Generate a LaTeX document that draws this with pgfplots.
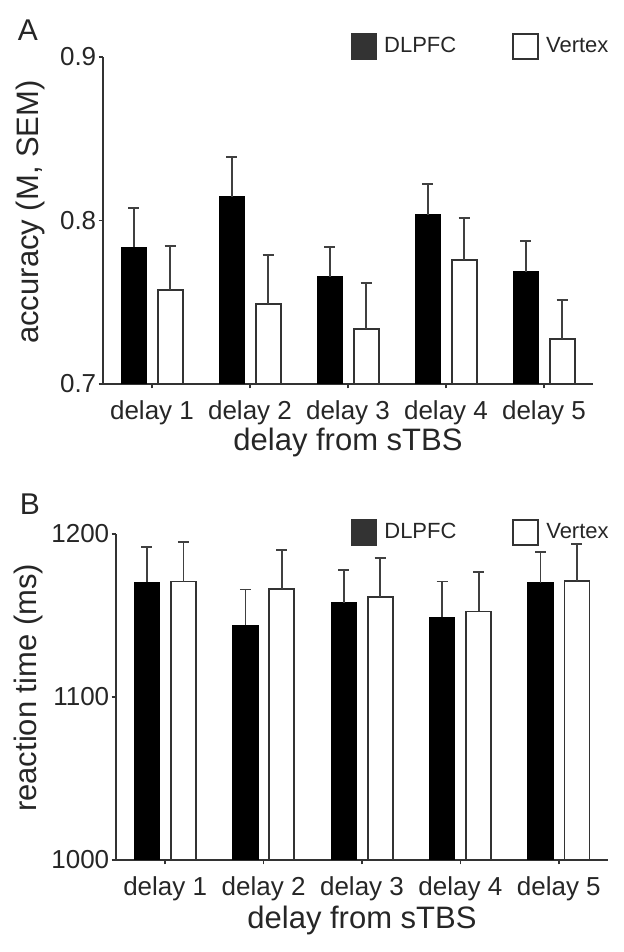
\documentclass[border=0pt]{standalone}
\usepackage{fontspec}
\setmainfont{Liberation Sans}
\usepackage{pgfplots}
\pgfplotsset{compat=1.18}
\pgfplotsset{
  mystyle/.style={
    scale only axis,
    anchor=south west,
    ybar, bar width=12.5pt,
    axis x line*=bottom, axis y line*=left,
    axis line style={black!80, line width=0.8pt, -},
    xmin=0.5, xmax=5.5,
    xtick={1,2,3,4,5},
    xticklabels={delay 1, delay 2, delay 3, delay 4, delay 5},
    tick align=outside,
    major tick length=2.2pt,
    tick style={black!80, line width=0.8pt},
    ticklabel style={font=\fontsize{13}{15}\selectfont, text=black!85},
    xticklabel style={anchor=base, yshift=-15.5pt},
    yticklabel style={anchor=east, inner sep=0pt, xshift=-1pt},
    /pgf/number format/assume math mode=true,
    legend style={draw=none, fill=none, font=\fontsize{11}{13}\selectfont, text=black!85,
      legend columns=2, anchor=north west, inner sep=0pt, outer sep=0pt,
      /tikz/every odd column/.append style={column sep=1.5pt},
      /tikz/every even column/.append style={column sep=26pt}},
    legend cell align=left,
  },
  dl/.style={bar shift=-9.1pt, fill=black, draw=black, line width=0.6pt, forget plot,
    error bars/.cd, y dir=plus, y explicit,
    error bar style={line width=0.9pt, black!75},
    error mark options={line width=0.9pt, black!75, mark size=2.75pt, rotate=90}},
  vx/.style={bar shift=9.1pt, fill=white, draw=black!80, line width=0.9pt, forget plot,
    error bars/.cd, y dir=plus, y explicit,
    error bar style={line width=0.9pt, black!75},
    error mark options={line width=0.9pt, black!75, mark size=2.75pt, rotate=90}},
}
\begin{document}
\begin{tikzpicture}[x=1pt,y=1pt]
\path[use as bounding box] (0,0) rectangle (312,476);
% Panel A
\begin{axis}[mystyle,
  at={(51.5pt,284pt)}, width=245pt, height=163.5pt,
  ymin=0.7, ymax=0.9, ytick={0.7,0.8,0.9},
  yticklabel style={/pgf/number format/.cd, fixed, precision=1, fixed zerofill},
  ylabel={accuracy (M, SEM)},
  xlabel={delay from sTBS},
  every axis y label/.style={at={(axis description cs:-0.149,0.526)}, rotate=90, anchor=center, font=\fontsize{15.5}{18}\selectfont, text=black!85},
  every axis x label/.style={at={(axis description cs:0.5,-0.180)}, anchor=center, font=\fontsize{15.5}{18}\selectfont, text=black!85},
  legend style={at={(axis description cs:0.506,1.073)}},
]
\addlegendimage{legend image code/.code={\draw[fill=black!80, draw=black!80, line width=0.6pt] (0pt,-6.25pt) rectangle (12.5pt,6.25pt);}}
\addlegendentry{DLPFC}
\addlegendimage{legend image code/.code={\draw[fill=white, draw=black!80, line width=0.9pt] (0pt,-6.25pt) rectangle (12.5pt,6.25pt);}}
\addlegendentry{Vertex}
\addplot[dl] coordinates {(1,0.7836) +- (0,0.0239) (2,0.8146) +- (0,0.0242) (3,0.7656) +- (0,0.0180) (4,0.8036) +- (0,0.0189) (5,0.7687) +- (0,0.0190)};
\addplot[vx] coordinates {(1,0.7577) +- (0,0.0269) (2,0.7487) +- (0,0.0300) (3,0.7336) +- (0,0.0280) (4,0.7757) +- (0,0.0256) (5,0.7275) +- (0,0.0239)};
\end{axis}
% Panel B
\begin{axis}[mystyle,
  at={(58pt,46pt)}, width=246pt, height=163pt,
  ymin=1000, ymax=1200, ytick={1000,1100,1200},
  yticklabel style={/pgf/number format/.cd, 1000 sep={}},
  ylabel={reaction time (ms)},
  xlabel={delay from sTBS},
  every axis y label/.style={at={(axis description cs:-0.177,0.528)}, rotate=90, anchor=center, font=\fontsize{15.5}{18}\selectfont, text=black!85},
  every axis x label/.style={at={(axis description cs:0.5,-0.184)}, anchor=center, font=\fontsize{15.5}{18}\selectfont, text=black!85},
  legend style={at={(axis description cs:0.478,1.046)}},
]
\addlegendimage{legend image code/.code={\draw[fill=black!80, draw=black!80, line width=0.6pt] (0pt,-6.25pt) rectangle (12.5pt,6.25pt);}}
\addlegendentry{DLPFC}
\addlegendimage{legend image code/.code={\draw[fill=white, draw=black!80, line width=0.9pt] (0pt,-6.25pt) rectangle (12.5pt,6.25pt);}}
\addlegendentry{Vertex}
\addplot[dl] coordinates {(1,1170.3) +- (0,21.5) (2,1143.9) +- (0,22.1) (3,1157.9) +- (0,20.2) (4,1148.8) +- (0,22.0) (5,1170.1) +- (0,18.9)};
\addplot[vx] coordinates {(1,1170.8) +- (0,24.5) (2,1166.5) +- (0,23.9) (3,1161.4) +- (0,24.1) (4,1152.5) +- (0,24.0) (5,1171.0) +- (0,22.9)};
\end{axis}
\node[font=\fontsize{15}{18}\selectfont, text=black!85] at (14,461) {A};
\node[font=\fontsize{15}{18}\selectfont, text=black!85] at (15,224) {B};
\end{tikzpicture}
\end{document}
